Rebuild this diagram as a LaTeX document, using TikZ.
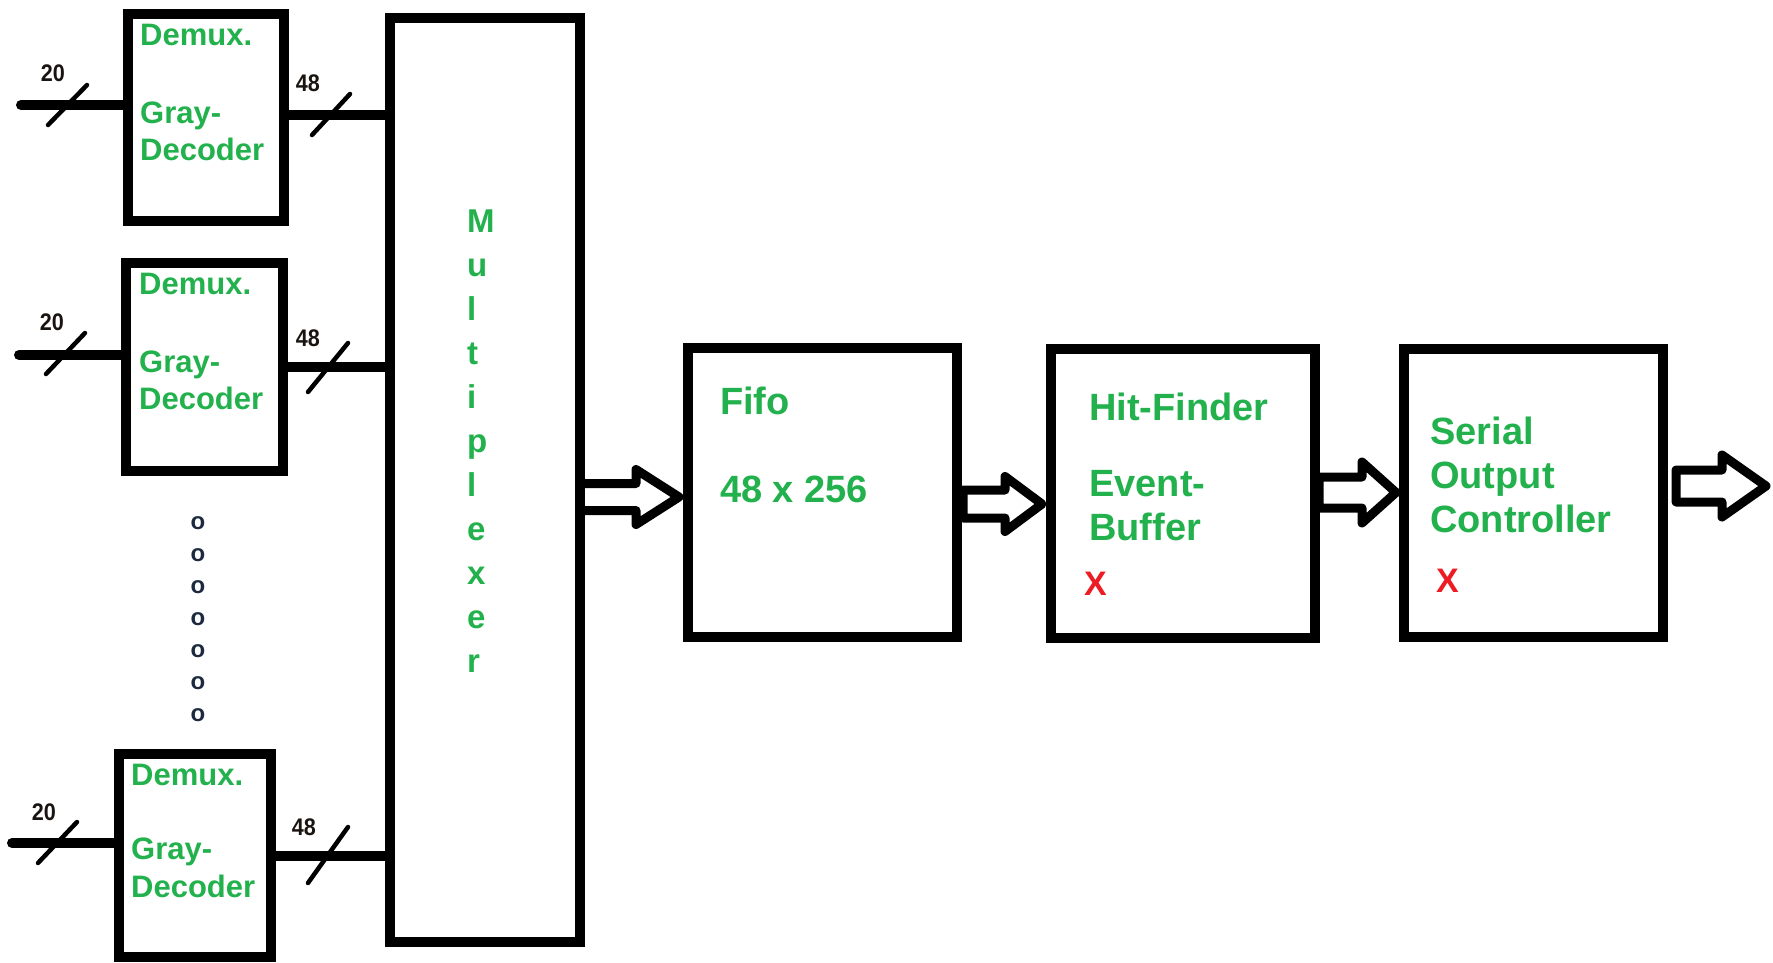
\documentclass[tikz,border=0pt]{standalone}
\usepackage{fontspec}
\setmainfont{Liberation Sans}
\usetikzlibrary{calc}
\definecolor{pgreen}{HTML}{22B14C}
\definecolor{pred}{HTML}{ED1C24}
\definecolor{digc}{HTML}{1A1410}
\definecolor{dotc}{HTML}{1C2A40}
\newcommand\fatarrow[5]{%
  \draw[fat] ($(#1)+(0,-#3)$) -- ($(#2)+(-#5,-#3)$) -- ($(#2)+(-#5,-#4)$) -- (#2)
    -- ($(#2)+(-#5,#4)$) -- ($(#2)+(-#5,#3)$) -- ($(#1)+(0,#3)$) -- cycle;}
\begin{document}
\begin{tikzpicture}[x=1pt,y=-1pt,
  box/.style={draw=black, line width=9.5pt, inner sep=0pt, outer sep=0pt},
  bus/.style={draw=black, line width=10pt, line cap=round},
  slashmark/.style={draw=black, line width=4.5pt, line cap=round},
  fat/.style={draw=black, line width=9pt, line join=round},
  lbl/.style={text=pgreen, font=\fontsize{31}{37}\selectfont\bfseries, anchor=base west, inner sep=0pt},
  big/.style={text=pgreen, font=\fontsize{38}{44}\selectfont\bfseries, anchor=base west, inner sep=0pt},
  xmark/.style={text=pred, font=\fontsize{34}{40}\selectfont\bfseries, anchor=base west, inner sep=0pt},
  buswidth/.style={text=digc, font=\fontsize{24}{28}\selectfont\bfseries, inner sep=0pt, xscale=0.9},
  mlet/.style={text=pgreen, font=\fontsize{33}{40}\selectfont\bfseries, anchor=base west, inner sep=0pt},
  dotmark/.style={text=dotc, font=\fontsize{24}{28}\selectfont\bfseries, inner sep=0pt}
]
\useasboundingbox (0,0) rectangle (1773,962);

% blocks
\node[box, minimum width=156pt, minimum height=207pt] (box1) at (206,117.5) {};
\node[box, minimum width=157pt, minimum height=208pt] (box2) at (204.5,367) {};
\node[box, minimum width=152pt, minimum height=203pt] (box3) at (195,855.5) {};
\node[box, minimum width=190pt, minimum height=924pt] (mux) at (485,480) {};
\node[box, minimum width=269pt, minimum height=289pt] (fifo) at (822.5,492.5) {};
\node[box, minimum width=264pt, minimum height=289pt] (hit) at (1183,493.5) {};
\node[box, minimum width=259pt, minimum height=288pt] (serial) at (1533.5,493) {};

% demux texts
\node[lbl] (d1a) at (140,45) {Demux.};
\node[lbl] (d1b) at (140,123) {Gray-};
\node[lbl] (d1c) at (140,160) {Decoder};
\node[lbl] (d2a) at (139,294) {Demux.};
\node[lbl] (d2b) at (139,372) {Gray-};
\node[lbl] (d2c) at (139,409) {Decoder};
\node[lbl] (d3a) at (131,785) {Demux.};
\node[lbl] (d3b) at (131,859) {Gray-};
\node[lbl] (d3c) at (131,897) {Decoder};

% multiplexer letters
\foreach \ch [count=\i from 0] in {M,u,l,t,i,p,l,e,x,e,r}
  \node[mlet] (ml\i) at (467,{232+44*\i}) {\ch};

% other texts
\node[big] (f1) at (720,414) {Fifo};
\node[big] (f2) at (720,502) {48 x 256};
\node[big] (h1) at (1089,420) {Hit-Finder};
\node[big] (h2) at (1089,496) {Event-};
\node[big] (h3) at (1089,540) {Buffer};
\node[xmark] (hx) at (1084,595) {X};
\node[big] (s1) at (1430,444) {Serial};
\node[big] (s2) at (1430,488) {Output};
\node[big] (s3) at (1430,532) {Controller};
\node[xmark] (sx) at (1436,592) {X};

% dots
\foreach \k in {0,...,6}
  \node[dotmark] (dot\k) at (198,{523+32*\k}) {o};

% input buses
\coordinate (in1) at (21,105);
\coordinate (in2) at (19,355);
\coordinate (in3) at (12,843);
\draw[bus] (in1) -- (in1 -| box1.west);
\draw[bus] (in2) -- (in2 -| box2.west);
\draw[bus] (in3) -- (in3 -| box3.west);
% output buses
\coordinate (y1) at (0,115);
\coordinate (y2) at (0,367);
\coordinate (y3) at (0,856);
\draw[bus] (box1.east |- y1) -- (mux.west |- y1);
\draw[bus] (box2.east |- y2) -- (mux.west |- y2);
\draw[bus] (box3.east |- y3) -- (mux.west |- y3);

% bus width slashes
\draw[slashmark] (48,125) -- (87,85);
\draw[slashmark] (46,374) -- (85,333);
\draw[slashmark] (38,863) -- (77,822);
\draw[slashmark] (312,135) -- (350,94);
\draw[slashmark] (308,392) -- (348,343);
\draw[slashmark] (308,883) -- (348,827);
\node[buswidth] (w1) at (53,73) {20};
\node[buswidth] (w2) at (52,322) {20};
\node[buswidth] (w3) at (44,812) {20};
\node[buswidth] (w4) at (308,83) {48};
\node[buswidth] (w5) at (308,338) {48};
\node[buswidth] (w6) at (304,827) {48};

% fat arrows
\coordinate (a1s) at ([yshift=-17pt]mux.east);
\coordinate (a1t) at ([shift={(-9pt,-4.5pt)}]fifo.west);
\fatarrow{a1s}{a1t}{13.5}{27.5}{43}
\coordinate (a2s) at ([shift={(6pt,-11.5pt)}]fifo.east);
\coordinate (a2t) at ([shift={(-9pt,-10.5pt)}]hit.west);
\fatarrow{a2s}{a2t}{14}{27.5}{37}
\coordinate (a3s) at ([shift={(4pt,1pt)}]hit.east);
\coordinate (a3t) at ([shift={(-8pt,0.5pt)}]serial.west);
\fatarrow{a3s}{a3t}{15.5}{30.5}{34}
\coordinate (a4s) at ([shift={(13pt,7pt)}]serial.east);
\coordinate (a4t) at (1766,486);
\fatarrow{a4s}{a4t}{16}{31}{44}
\end{tikzpicture}
\end{document}
